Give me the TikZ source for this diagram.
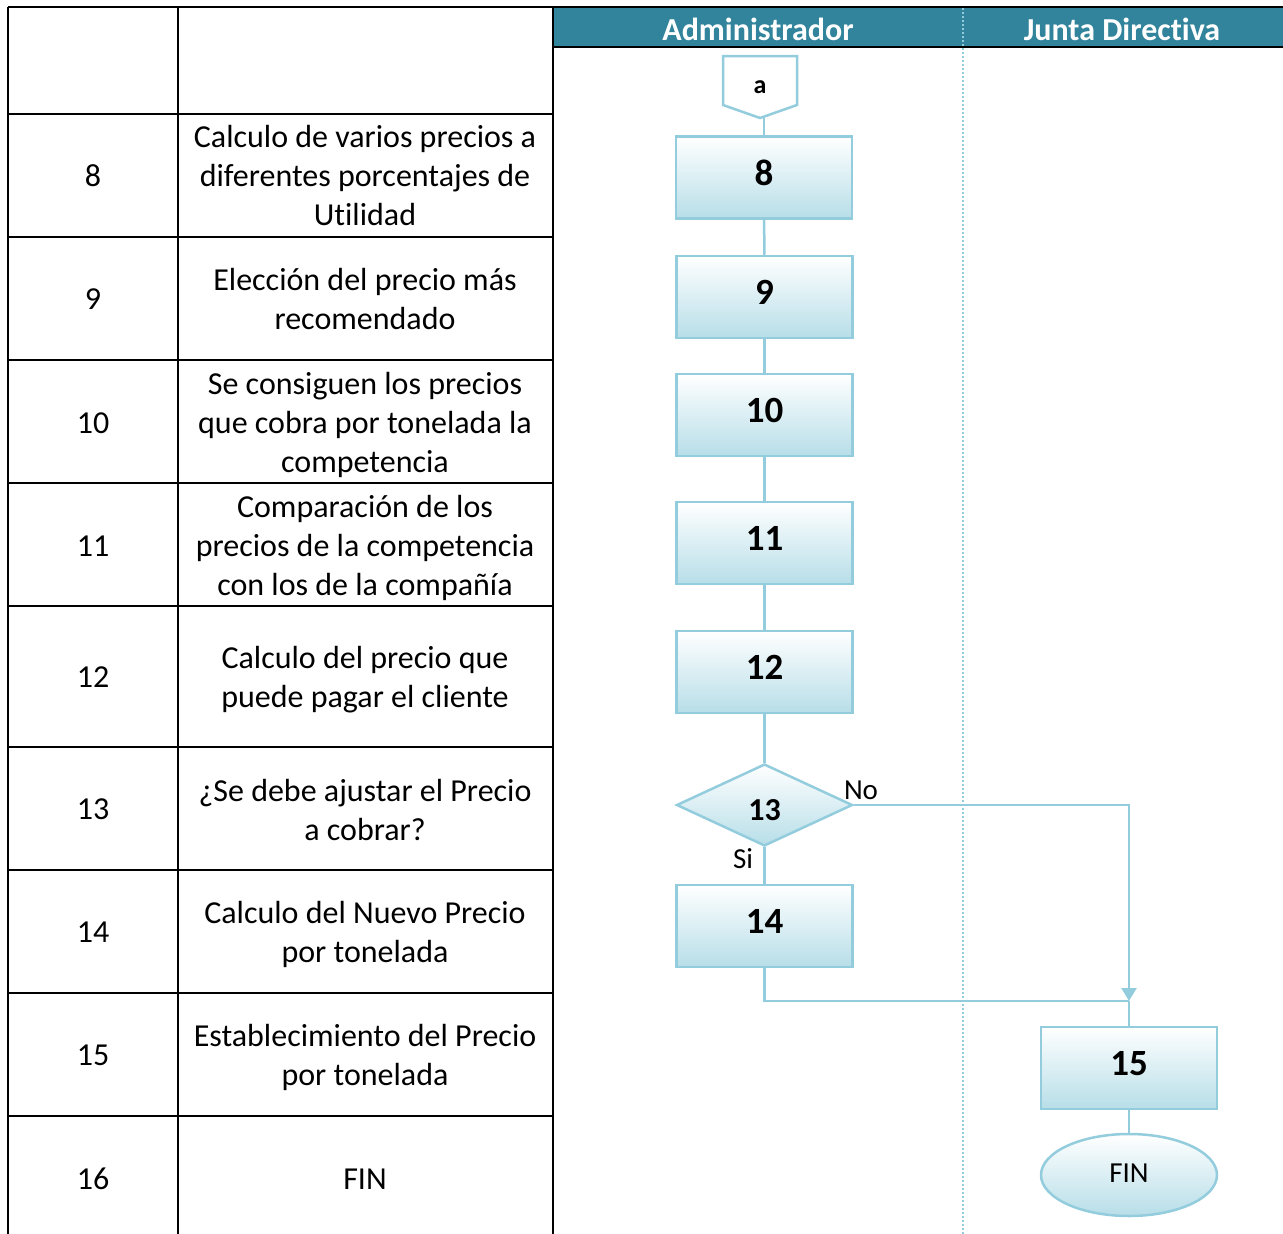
\documentclass[tikz,border=0pt]{standalone}
\usepackage{fontspec}
\setmainfont[Ligatures=NoCommon]{Carlito}
\usetikzlibrary{shapes.geometric,arrows.meta}
\definecolor{hdr}{HTML}{31849B}
\definecolor{lnb}{HTML}{93CDDD}
\definecolor{fillb}{HTML}{B7DEE8}
\begin{document}
\begin{tikzpicture}[x=1pt,y=-1pt,
  tline/.style={draw=black,line width=2pt},
  cell/.style={font=\fontsize{32}{39}\selectfont,align=center,inner sep=0},
  proc/.style={draw=lnb,line width=2.5pt,top color=white,bottom color=fillb,
    minimum width=176,minimum height=82,inner sep=0,text depth=10pt,
    font=\fontsize{37}{42}\selectfont\bfseries},
  dec/.style={diamond,draw=lnb,line width=2.5pt,top color=white,bottom color=fillb,
    minimum width=176,minimum height=82,inner sep=0,text height=30pt,text depth=0pt,
    font=\fontsize{32}{36}\selectfont\bfseries},
  term/.style={ellipse,draw=lnb,line width=2.5pt,top color=white,bottom color=fillb,
    minimum width=176,minimum height=82,inner sep=0,text depth=4pt,
    font=\fontsize{29}{34}\selectfont},
  conn/.style={draw=lnb,line width=2.5pt},
  hdrtext/.style={font=\fontsize{32}{38}\selectfont\bfseries,text=white},
  lbl/.style={font=\fontsize{29}{34}\selectfont,inner sep=0}]
\useasboundingbox (0,0) rectangle (1283,1234);
% header band
\fill[hdr] (553,8) rectangle (1283,47);
\draw[tline] (8,7) -- (1283,7);
\draw[tline] (553,47) -- (1283,47);
\node[hdrtext] (hA) at (758,29) {Administrador};
\node[hdrtext] (hJ) at (1122,29) {Junta Directiva};
% lane divider
\draw[lnb,line width=1.5pt,dash pattern=on 2pt off 2pt] (963,8) -- (963,1234);
% table
\foreach \y in {114,237,360,483,606,747,870,993,1116}{\draw[tline] (8,\y) -- (553,\y);}
\foreach \x in {8,178,553}{\draw[tline] (\x,7) -- (\x,1234);}
\node[cell] (n8) at (93,176) {8};
\node[cell] (t8) at (365,176) {Calculo de varios precios a\\diferentes porcentajes de\\Utilidad};
\node[cell] (n9) at (93,299) {9};
\node[cell] (t9) at (365,299) {Elección del precio más\\recomendado};
\node[cell] (n10) at (93,423) {10};
\node[cell] (t10) at (365,424.5) {Se consiguen los precios\\que cobra por tonelada la\\competencia};
\node[cell] (n11) at (93,546) {11};
\node[cell] (t11) at (365,547.5) {Comparación de los\\precios de la competencia\\con los de la compañía};
\node[cell] (n12) at (93,677) {12};
\node[cell] (t12) at (365,679.5) {Calculo del precio que\\puede pagar el cliente};
\node[cell] (n13) at (93,809) {13};
\node[cell] (t13) at (365,810) {¿Se debe ajustar el Precio\\a cobrar?};
\node[cell] (n14) at (93,932) {14};
\node[cell] (t14) at (365,934) {Calculo del Nuevo Precio\\por tonelada};
\node[cell] (n15) at (93,1055) {15};
\node[cell] (t15) at (365,1057) {Establecimiento del Precio\\por tonelada};
\node[cell] (n16) at (93,1179) {16};
\node[cell] (t16) at (365,1179) {FIN};
% flowchart
\coordinate (a) at (760,87);
\draw[lnb,line width=2.5pt,fill=white] (723,56) -- (797,56) -- (797,105) -- (760,118) -- (723,105) -- cycle;
\node[font=\fontsize{26}{30}\selectfont\bfseries] (atext) at (a) {a};
\node[proc] (b8) at (764,177.5) {8};
\node[proc] (b9) at (764.5,297) {9};
\node[proc] (b10) at (764.5,415) {10};
\node[proc] (b11) at (764.5,543) {11};
\node[proc] (b12) at (764.5,672) {12};
\node[dec] (d13) at (764.5,805) {13};
\node[proc] (b14) at (764.5,926) {14};
\node[proc] (b15) at (1129,1068) {15};
\node[term] (fin) at (1129,1175) {FIN};
\coordinate (j) at (1129,1001);
\coordinate (aout) at (764,117);
\draw[conn] (aout) -- (b8);
\draw[conn] (b8) -- (b9);
\draw[conn] (b9) -- (b10);
\draw[conn] (b10) -- (b11);
\draw[conn] (b11) -- (b12);
\draw[conn] (b12) -- (d13);
\draw[conn] (d13) -- (b14);
\draw[conn] (b14.south) |- (j);
\draw[conn,-{Triangle[length=13,width=15]}] (d13.east) -| (j);
\draw[conn] (j) -- (b15);
\draw[conn] (b15) -- (fin);
\node[lbl] (no) at (861,790) {No};
\node[lbl] (si) at (743,859) {Si};
\end{tikzpicture}
\end{document}
